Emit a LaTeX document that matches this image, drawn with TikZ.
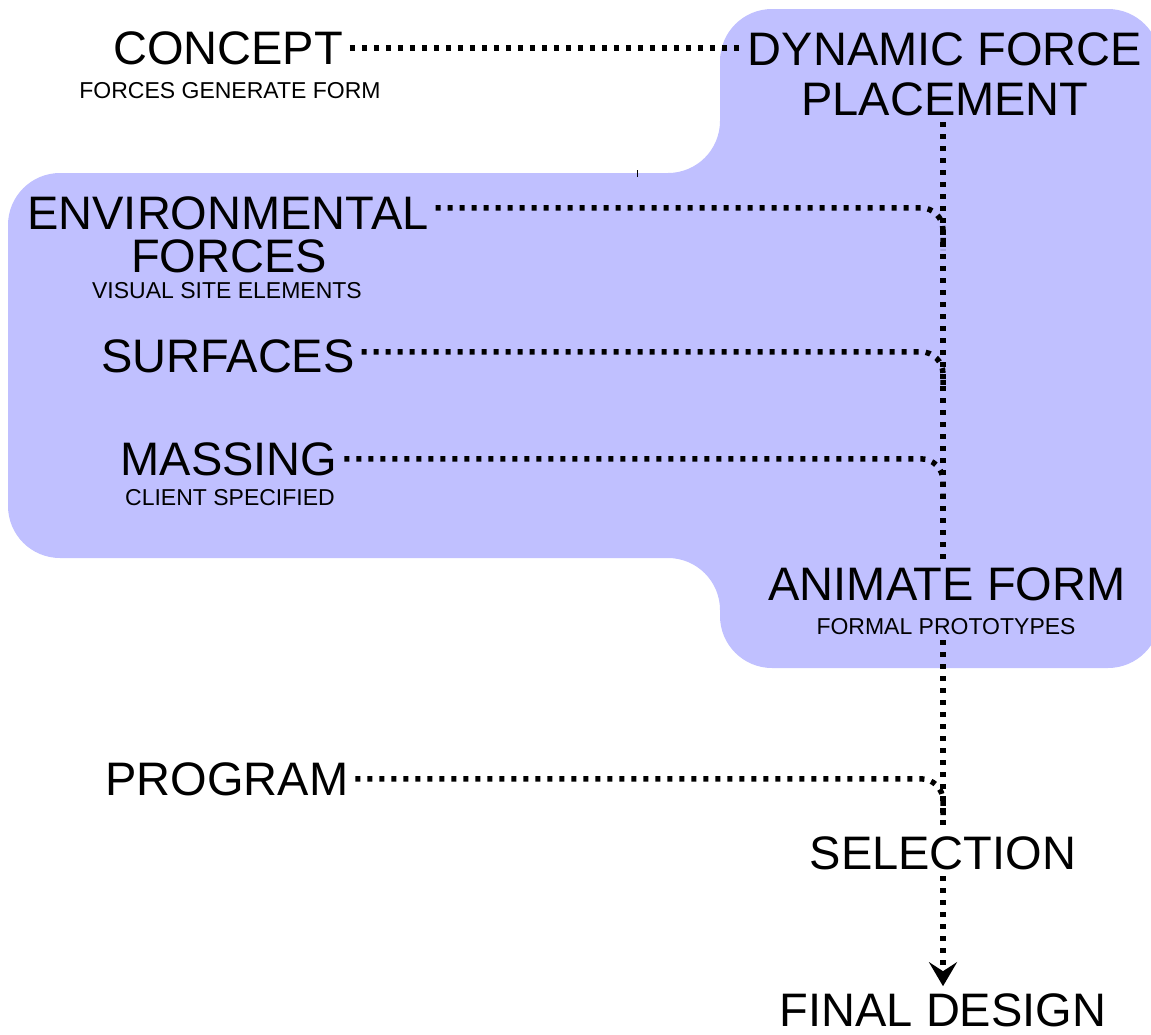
\documentclass[tikz,border=0pt]{standalone}
\usepackage{fontspec}
\setmainfont{Liberation Sans}
\usetikzlibrary{arrows.meta}
\definecolor{blob}{HTML}{C0C0FF}
\begin{document}
\begin{tikzpicture}[x=1pt,y=-1pt,
  big/.style={font=\fontsize{47}{50}\selectfont, inner sep=0pt, outer sep=7pt, anchor=base},
  small/.style={font=\fontsize{23}{25}\selectfont, inner sep=0pt, outer sep=6pt, anchor=base},
  dots/.style={line width=5.5pt, dash pattern=on 5pt off 7pt},
]
\useasboundingbox (0,0) rectangle (1151,1034);
% background blob
\fill[blob, rounded corners=52pt] (900,9) -- (1160,9) -- (1160,668) -- (720,668) -- (720,558)
  -- (8,558) -- (8,173) -- (720,173) -- (720,9) -- cycle;
\draw[line width=1pt] (637,170) -- (637,177);

% nodes
\node[big] (concept) at (228,64) {CONCEPT};
\node[small] (fgf) at (230,98) {FORCES GENERATE FORM};
\node[big] (dyn1) at (945,65) {DYNAMIC FORCE};
\node[big] (dyn2) at (945,115) {PLACEMENT};
\node[big] (env1) at (228,229) {ENVIRONMENTAL};
\node[big] (env2) at (229,272) {FORCES};
\node[small] (vse) at (227,298) {VISUAL SITE ELEMENTS};
\node[big] (surf) at (228,372) {SURFACES};
\node[big] (mass) at (229,475) {MASSING};
\node[small] (client) at (230,505) {CLIENT SPECIFIED};
\node[big] (anim) at (947,600) {ANIMATE FORM};
\node[small] (proto) at (946,634) {FORMAL PROTOTYPES};
\node[big] (prog) at (227,795) {PROGRAM};
\node[big] (sel) at (943,869) {SELECTION};
\node[big] (final) at (943,1026) {FINAL DESIGN};

\coordinate (col) at (943,0);
\coordinate (j1) at (943,250);
\coordinate (j2) at (943,390);
\coordinate (j3) at (943,495);
\coordinate (j4) at (943,815);

% connectors
\draw[dots] (concept.east) -- (concept.east -| dyn1.west);
\draw[dots] (dyn2.south -| col) -- (anim.north -| col);
\draw[dots] (proto.south -| col) -- (sel.north -| col);
\draw[dots, -{Stealth[length=24pt,width=28pt,inset=9pt]}] (sel.south -| col) -- (final.north -| col);

\draw[dots, rounded corners=22pt] ([yshift=5pt]env1.east) -| (j1);
\draw[dots, rounded corners=22pt] ([yshift=4pt]surf.east) -| (j2);
\draw[dots, rounded corners=22pt] (mass.east) -| (j3);
\draw[dots, rounded corners=22pt] (prog.east) -| (j4);
\end{tikzpicture}
\end{document}
